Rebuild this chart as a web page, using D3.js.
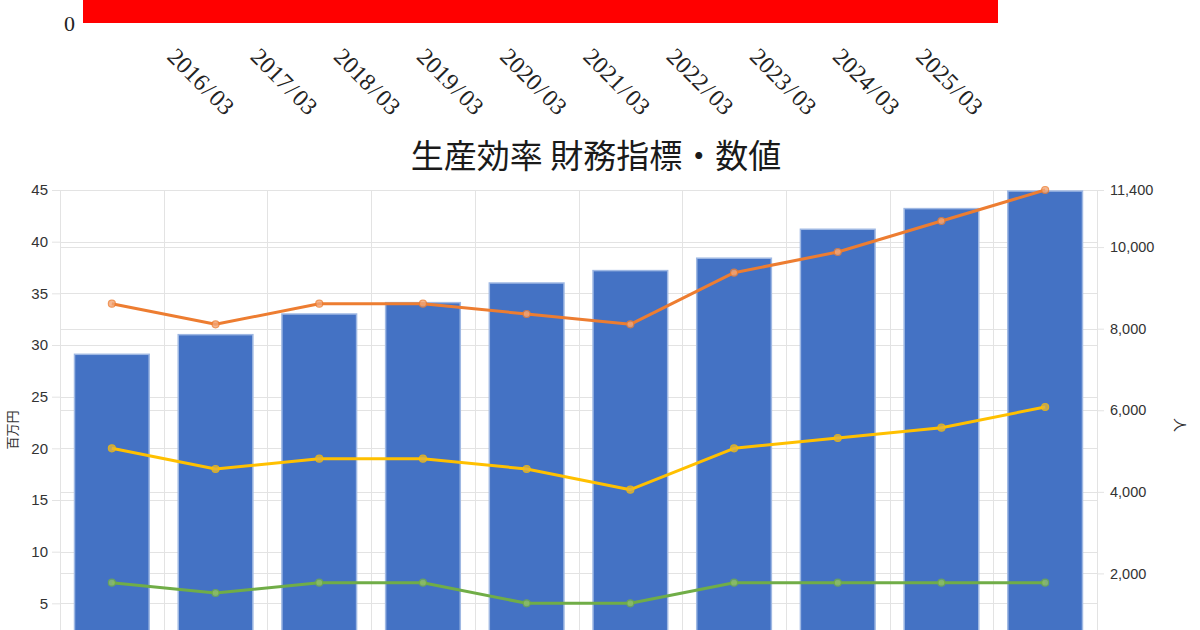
<!DOCTYPE html>
<html><head><meta charset="utf-8">
<script src="https://cdn.jsdelivr.net/npm/d3@7"></script>
<style>
html,body{margin:0;padding:0;background:#fff;}
svg{display:block;}
</style></head>
<body>
<svg id="c" width="1200" height="630"></svg>
<script>
// ---- data ----
const periods = ["2016/03","2017/03","2018/03","2019/03","2020/03","2021/03","2022/03","2023/03","2024/03","2025/03"];
const topBarValue = [10];          // upper (cropped) chart bar, only its base is visible
const topTicks = [0];
const title = "生産効率 財務指標・数値";
const barValues = [29.1, 31.0, 33.0, 34.1, 36.0, 37.2, 38.4, 41.2, 43.2, 44.9];
const lineOrange = [34, 32, 34, 34, 33, 32, 37, 39, 42, 45];
const lineYellow = [20, 18, 19, 19, 18, 16, 20, 21, 22, 24];
const lineGreen  = [7, 6, 7, 7, 5, 5, 7, 7, 7, 7];
const leftTicks = [5, 10, 15, 20, 25, 30, 35, 40, 45];
const rightTicks = [2000, 4000, 6000, 8000, 10000, 11400];
const leftLabel = "百万円";
const rightLabel = "人";

const svg = d3.select("#c");

// ---- top (cropped) chart ----
const xTop = d3.scaleBand().domain(["all"]).range([83, 998]);
const yTop = d3.scaleLinear().domain([0, 10]).range([23, -300]);
svg.append("rect")
  .attr("x", xTop("all")).attr("width", xTop.bandwidth())
  .attr("y", yTop(topBarValue[0])).attr("height", yTop(0) - yTop(topBarValue[0]))
  .attr("fill", "#ff0000");
svg.selectAll(".ttick").data(topTicks).enter().append("text")
  .attr("x", 75).attr("y", d => yTop(d)).attr("dy", "0.35em")
  .attr("text-anchor", "end")
  .attr("font-family", "'Liberation Serif', serif").attr("font-size", 22)
  .attr("fill", "#222").text(d => d);
const xTopLbl = d3.scalePoint().domain(periods).range([166, 166 + 83.2 * 9]);
const lbl = svg.selectAll(".tlbl").data(periods).enter().append("text")
  .attr("transform", d => `translate(${xTopLbl(d)},58) rotate(45)`)
  .attr("font-family", "'Liberation Serif', serif").attr("font-size", 24)
  .attr("fill", "#222");
lbl.append("tspan").text(d => d.split("/")[0]);
lbl.append("tspan").attr("dx", 1.5).text("/");
lbl.append("tspan").attr("dx", 2.5).text(d => d.split("/")[1]);

// ---- title ----
svg.append("text").attr("x", 596).attr("y", 168).attr("text-anchor", "middle")
  .attr("font-family", "'Noto Sans CJK JP', sans-serif").attr("font-size", 33)
  .attr("fill", "#1a1a1a").text(title);

// ---- main chart ----
const L = 60, R = 1097, T = 190, B = 655;
const x = d3.scaleBand().domain(periods).range([L, R]).paddingInner(0.28).paddingOuter(0.14);
const yL = d3.scaleLinear().domain([0, 45]).range([B, T]);
const yR = d3.scaleLinear().domain([0, 11400]).range([B, T]);

const grid = svg.append("g").attr("stroke", "#e3e3e3").attr("stroke-width", 1);
leftTicks.forEach(t => grid.append("line").attr("x1", L).attr("x2", R).attr("y1", Math.round(yL(t)) + 0.5).attr("y2", Math.round(yL(t)) + 0.5));
rightTicks.forEach(t => grid.append("line").attr("x1", L).attr("x2", R).attr("y1", Math.round(yR(t)) + 0.5).attr("y2", Math.round(yR(t)) + 0.5));
const step = x.step();
d3.range(periods.length + 1).forEach(i => {
  const xx = Math.round(L + i * step) + 0.5;
  grid.append("line").attr("x1", xx).attr("x2", xx).attr("y1", T).attr("y2", 640);
});

// left axis
const axL = svg.append("g").attr("transform", `translate(${L},0)`)
  .call(d3.axisLeft(yL).tickValues(leftTicks).tickSize(8).tickPadding(4));
axL.select(".domain").remove();
axL.selectAll(".tick line").attr("stroke", "#e3e3e3");
axL.selectAll("text").attr("font-family", "'Liberation Sans', Arial, sans-serif").attr("font-size", 15).attr("fill", "#333");

// right axis
const axR = svg.append("g").attr("transform", `translate(${R},0)`)
  .call(d3.axisRight(yR).tickValues(rightTicks).tickSize(7).tickPadding(6).tickFormat(d3.format(",")));
axR.select(".domain").remove();
axR.selectAll(".tick line").attr("stroke", "#e3e3e3");
axR.selectAll("text").attr("font-family", "'Liberation Sans', Arial, sans-serif").attr("font-size", 14.5).attr("fill", "#333");

// axis titles
svg.append("text").attr("transform", "translate(17,430) rotate(-90)").attr("text-anchor", "middle")
  .attr("font-family", "'Noto Sans CJK JP', sans-serif").attr("font-size", 13).attr("fill", "#333").text(leftLabel);
svg.append("text").attr("transform", "translate(1175,425) rotate(90)").attr("text-anchor", "middle")
  .attr("font-family", "'Noto Sans CJK JP', sans-serif").attr("font-size", 14).attr("fill", "#333").text(rightLabel);

// bars
svg.append("g").selectAll("rect").data(barValues).enter().append("rect")
  .attr("x", (d, i) => x(periods[i])).attr("width", x.bandwidth())
  .attr("y", d => yL(d)).attr("height", d => yL(0) - yL(d))
  .attr("fill", "#4472c4").attr("stroke", "#9fb8e3").attr("stroke-width", 1.5);

// lines
const series = [
  {v: lineGreen, c: "#70ad47", f: "#8fbf6a"},
  {v: lineYellow, c: "#ffc000", f: "#e0b43c"},
  {v: lineOrange, c: "#ed7d31", f: "#f2a677"}
];
const line = d3.line().x((d, i) => x(periods[i]) + x.bandwidth() / 2).y(d => yL(d));
series.forEach(s => {
  svg.append("path").datum(s.v).attr("d", line).attr("fill", "none")
    .attr("stroke", s.c).attr("stroke-width", 3).attr("stroke-linejoin", "round");
  svg.append("g").selectAll("circle").data(s.v).enter().append("circle")
    .attr("cx", (d, i) => x(periods[i]) + x.bandwidth() / 2).attr("cy", d => yL(d))
    .attr("r", 3.5).attr("fill", s.f).attr("stroke", s.c).attr("stroke-width", 1.2).attr("opacity", 0.8);
});
</script>
</body></html>
